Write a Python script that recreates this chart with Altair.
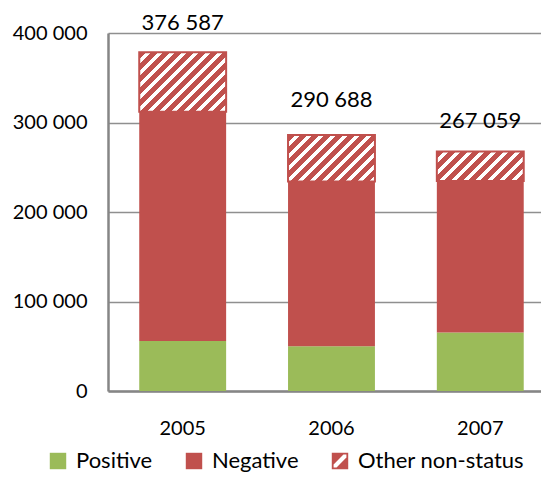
import altair as alt
import pandas as pd

# ---- data ----
years = ["2005", "2006", "2007"]
categories = ["Positive", "Negative", "Other non-status"]
positive = [56000, 50000, 65500]
negative = [256000, 184000, 169000]
other = [66500, 52000, 33000]
label_text = ["376 587", "290 688", "267 059"]
label_value = [376587, 290688, 267059]
y_ticks = [0, 100000, 200000, 300000, 400000]

GREEN = "#9BBB59"
RED = "#C0504D"
GREY = "#868686"
FONT = "Lato"

W, H = 433, 358
P_INNER, P_OUTER, ALIGN = 0.416, 0.163, 0.644

rows = []
for i, yr in enumerate(years):
    start = 0
    for cat, vals in zip(categories, [positive, negative, other]):
        v = vals[i]
        rows.append({"year": yr, "category": cat, "value": v,
                     "start": start, "end": start + v, "mid": start + v / 2,
                     "order": categories.index(cat)})
        start += v
df = pd.DataFrame(rows)
labels = pd.DataFrame({"year": years, "label": label_text, "pos": label_value})

x_enc = alt.X("year:N", sort=years, title=None,
              scale=alt.Scale(paddingInner=P_INNER, paddingOuter=P_OUTER, align=ALIGN),
              axis=alt.Axis(labelAngle=0, ticks=False, labelPadding=27, labelFontSize=20,
                            domainColor=GREY, domainWidth=2.5, grid=False))
y_scale = alt.Scale(domain=[0, 400000], nice=False)
y_axis = alt.Axis(values=y_ticks, ticks=False, labelPadding=21, labelFontSize=20,
                  labelExpr="replace(format(datum.value, ','), ',', ' ')",
                  grid=True, gridColor="#8f8f8f", gridWidth=1.5,
                  domainColor=GREY, domainWidth=2.5)

color_scale = alt.Scale(domain=categories, range=[GREEN, RED, RED])
hatch_path = ("M-1,-1L1,-1L1,1L-1,1Z"
              "M-0.78,-0.78L-0.78,0.78L0.78,0.78L0.78,-0.78Z"
              "M-0.78,-0.78L0.42,-0.78L-0.78,0.42Z"
              "M0.78,0.78L-0.42,0.78L0.78,-0.42Z")
shape_scale = alt.Scale(domain=categories, range=["square", "square", hatch_path])

# hidden points (under the bars) that provide the legend
legend_pts = alt.Chart(df).mark_point(filled=True, size=270, opacity=1).encode(
    x=x_enc,
    y=alt.Y("mid:Q", scale=y_scale, axis=y_axis, title=None),
    color=alt.Color("category:N", scale=color_scale, sort=categories,
                    legend=alt.Legend(title=None)),
    shape=alt.Shape("category:N", scale=shape_scale, sort=categories,
                    legend=alt.Legend(title=None)),
)

bars = alt.Chart(df).mark_bar().encode(
    x=x_enc,
    y=alt.Y("start:Q", scale=y_scale, axis=y_axis, title=None),
    y2="end:Q",
    color=alt.Color("category:N", scale=color_scale, sort=categories, legend=None),
)

step = W / (3 - P_INNER + 2 * P_OUTER)
bw = step * (1 - P_INNER)


def stripe_gradient(w, h, period=12.0, white=0.40):
    L = w + h
    r = h / w
    k = (1 + r) / (1 + r * r)
    stops = []
    j = 0
    while j * period < L:
        a = j * period / L
        b = min(1.0, (j * period + period * (1 - white)) / L)
        c = min(1.0, (j + 1) * period / L)
        stops.append(alt.GradientStop(offset=a, color=RED))
        stops.append(alt.GradientStop(offset=b, color=RED))
        if b < 1.0:
            stops.append(alt.GradientStop(offset=b, color="white"))
            stops.append(alt.GradientStop(offset=c, color="white"))
        j += 1
    return alt.LinearGradient(gradient="linear", stops=stops,
                              x1=0, y1=0, x2=k, y2=k * r)


hatch_layers = []
for i, yr in enumerate(years):
    sub = df[(df["year"] == yr) & (df["category"] == "Other non-status")]
    h_px = other[i] * H / 400000
    hatch_layers.append(
        alt.Chart(sub).mark_bar(fill=stripe_gradient(bw, h_px), stroke=RED, strokeWidth=2).encode(
            x=x_enc,
            y=alt.Y("start:Q", scale=y_scale, axis=y_axis, title=None),
            y2="end:Q",
        )
    )

text = alt.Chart(labels).mark_text(font=FONT, fontSize=22, baseline="alphabetic",
                                   dy=-24, color="black").encode(
    x=x_enc,
    y=alt.Y("pos:Q", scale=y_scale, axis=y_axis, title=None),
    text="label:N",
)

chart = alt.layer(legend_pts, bars, *hatch_layers, text).properties(
    width=W, height=H,
    autosize=alt.AutoSizeParams(type="none"),
    padding={"left": 100, "top": 25, "right": 0, "bottom": 84},
).configure_view(stroke=None).configure_axis(
    labelFont=FONT, labelColor="black",
).configure_legend(
    orient="none", legendX=-61, legendY=417, direction="horizontal",
    labelFont=FONT, labelFontSize=22, labelColor="black", labelOffset=7,
    labelLimit=400, columnPadding=30, symbolSize=270, symbolStrokeWidth=0,
    padding=0, symbolOpacity=1,
)

chart.save("out.html", embed_options={"renderer": "svg", "actions": False})
